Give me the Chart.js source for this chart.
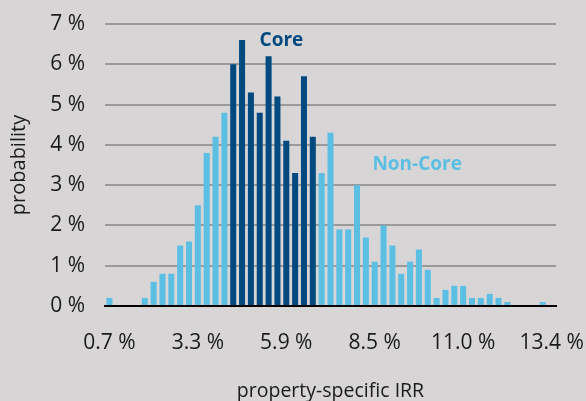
<!DOCTYPE html>
<html>
<head>
<meta charset="utf-8">
<script src="https://cdn.jsdelivr.net/npm/chart.js@4"></script>
<style>
    html, body { margin: 0; padding: 0; background: #d7d5d6; }
    #wrap { position: relative; width: 586px; height: 401px; }
</style>
</head>
<body>
<div id="wrap"><canvas id="irrChart" width="586" height="401"></canvas></div>
<script>
// IRR bins, a tick label every 10th bin
const tickLabels = ['0.7 %', '3.3 %', '5.9 %', '8.5 %', '11.0 %', '13.4 %'];
const binCount = 51;

// probability in % per bin (null = no bar of that series)
const coreValues = [
    null, null, null, null, null, null, null, null, null, null,
    null, null, null, null, 6.0, 6.6, 5.3, 4.8, 6.2, 5.2,
    4.1, 3.3, 5.7, 4.2, null, null, null, null, null, null,
    null, null, null, null, null, null, null, null, null, null,
    null, null, null, null, null, null, null, null, null, null,
    null
];
const nonCoreValues = [
    0.2, 0, 0, 0, 0.2, 0.6, 0.8, 0.8, 1.5, 1.6,
    2.5, 3.8, 4.2, 4.8, null, null, null, null, null, null,
    null, null, null, null, 3.3, 4.3, 1.9, 1.9, 3.0, 1.7,
    1.1, 2.0, 1.5, 0.8, 1.1, 1.4, 0.9, 0.2, 0.4, 0.5,
    0.5, 0.2, 0.2, 0.3, 0.2, 0.1, 0, 0, 0, 0.1,
    0
];
const yTicks = [0, 1, 2, 3, 4, 5, 6, 7];

const coreColor = '#004a7f';
const nonCoreColor = '#5bbfe4';

const labels = [];
for (let i = 0; i < binCount; i++) {
    labels.push(i % 10 === 0 ? tickLabels[i / 10] : '');
}

// text labels next to the bars
const seriesLabels = {
    id: 'seriesLabels',
    afterDatasetsDraw(chart) {
        const ctx = chart.ctx;
        const x = chart.scales.x, y = chart.scales.y;
        ctx.save();
        ctx.font = 'bold 19px "Open Sans"';
        ctx.textAlign = 'center';
        ctx.textBaseline = 'middle';
        ctx.fillStyle = coreColor;
        ctx.fillText('Core', x.getPixelForValue(19.45), y.getPixelForValue(6.58));
        ctx.fillStyle = nonCoreColor;
        ctx.fillText('Non-Core', x.getPixelForValue(34.8), y.getPixelForValue(3.52));
        ctx.restore();
    }
};

new Chart(document.getElementById('irrChart'), {
    type: 'bar',
    data: {
        labels: labels,
        datasets: [{
            label: 'Core',
            data: coreValues,
            backgroundColor: coreColor,
            barPercentage: 0.68,
            categoryPercentage: 1
        }, {
            label: 'Non-Core',
            data: nonCoreValues,
            backgroundColor: nonCoreColor,
            barPercentage: 0.68,
            categoryPercentage: 1
        }]
    },
    options: {
        responsive: false,
        animation: false,
        layout: { padding: { top: 24, right: 30, left: 0, bottom: 0 } },
        plugins: {
            legend: { display: false },
            tooltip: { enabled: false }
        },
        scales: {
            x: {
                stacked: true,
                grid: { display: false, drawTicks: false },
                border: { display: true, color: '#000', width: 2 },
                ticks: {
                    autoSkip: false,
                    maxRotation: 0,
                    padding: 24,
                    color: '#1a1a1a',
                    font: { family: 'Open Sans', size: 21 }
                },
                title: {
                    display: true,
                    text: 'property-specific IRR',
                    color: '#1a1a1a',
                    font: { family: 'Open Sans', size: 19.5 },
                    padding: { top: 0, bottom: -2 }
                },
                afterFit(scale) {
                    scale.height = 95;
                    scale.paddingLeft = 0;
                    scale.paddingRight = 0;
                }
            },
            y: {
                stacked: true,
                min: 0,
                max: 7,
                afterBuildTicks(scale) { scale.ticks = yTicks.map(v => ({ value: v })); },
                grid: { color: '#9a9a9a', lineWidth: 2, drawTicks: false },
                border: { display: false },
                ticks: {
                    padding: 20,
                    color: '#1a1a1a',
                    font: { family: 'Open Sans', size: 21 },
                    callback: v => v + ' %'
                },
                title: {
                    display: true,
                    text: 'probability',
                    color: '#1a1a1a',
                    font: { family: 'Open Sans', size: 20 },
                    padding: { top: 7, bottom: 0 }
                },
                afterFit(scale) {
                    scale.width = 105;
                    scale.paddingTop = 0;
                    scale.paddingBottom = 0;
                }
            }
        }
    },
    plugins: [seriesLabels]
});
</script>
</body>
</html>
